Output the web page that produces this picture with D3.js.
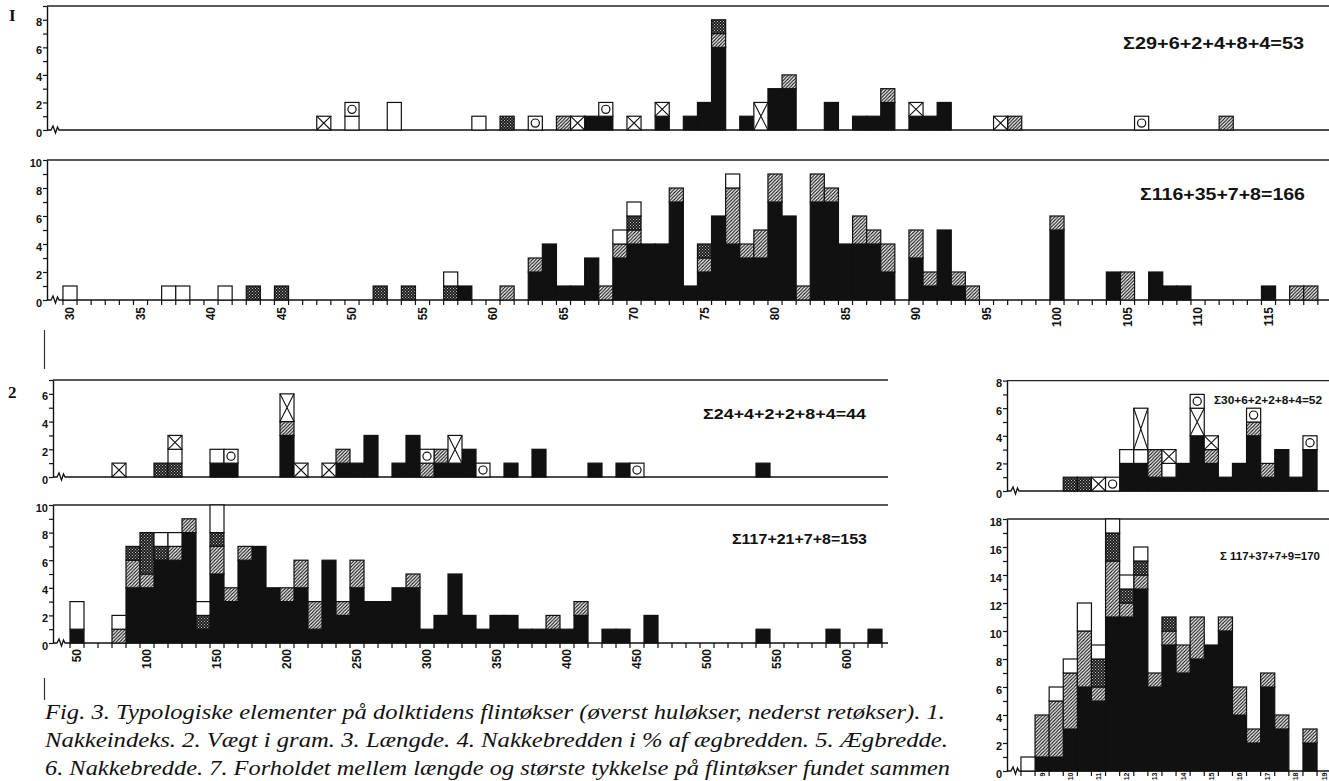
<!DOCTYPE html>
<html><head><meta charset="utf-8">
<script src="https://cdn.jsdelivr.net/npm/d3@7"></script>
<style>body{margin:0;background:#fff}svg{display:block}</style>
</head><body>
<svg id="c" width="1329" height="781"></svg>
<script>
// ================= DATA =================
// stack order of the symbol categories (bottom -> top)
const categories = ["black","hatched","stipple","white","cross","circle"];

// 1. Nakkeindeks – huløkser (top)  [index, count]
const nakHul_black   = [[67,1],[68,1],[72,1],[74,1],[75,2],[76,6],[78,1],[80,3],[81,3],[84,2],[86,1],[87,1],[88,2],[90,1],[91,1],[92,2]];
const nakHul_hatched = [[65,1],[76,1],[81,1],[88,1],[97,1],[112,1]];
const nakHul_stipple = [[61,1],[76,1]];
const nakHul_white   = [[50,1],[53,2],[59,1]];
const nakHul_cross   = [[48,1],[66,1],[70,1],[72,1],[79,2],[90,1],[96,1]];
const nakHul_circle  = [[50,1],[63,1],[68,1],[106,1]];

// 1. Nakkeindeks – retøkser
const nakRet_black   = [[58,1],[63,2],[64,4],[65,1],[66,1],[67,3],[69,3],[70,4],[71,4],[72,4],[73,7],[74,1],[75,2],[76,6],[77,4],[78,3],[79,3],[80,7],[81,6],[83,7],[84,7],[85,4],[86,4],[87,4],[88,2],[90,3],[91,1],[92,5],[93,1],[100,5],[104,2],[107,2],[108,1],[109,1],[115,1]];
const nakRet_hatched = [[61,1],[63,1],[68,1],[69,1],[70,1],[73,1],[75,1],[77,4],[78,1],[79,2],[80,2],[82,1],[83,2],[84,1],[86,2],[87,1],[88,2],[90,2],[91,1],[93,1],[94,1],[100,1],[105,2],[117,1],[118,1]];
const nakRet_stipple = [[43,1],[45,1],[52,1],[54,1],[57,1],[70,1],[75,1]];
const nakRet_white   = [[30,1],[37,1],[38,1],[41,1],[57,1],[69,1],[70,1],[77,1]];

// 2. Vægt i gram – huløkser  [gram class (centre), count]
const vaegtHul_black   = [[150,1],[160,1],[200,3],[240,1],[250,1],[260,3],[280,1],[290,3],[310,1],[320,1],[330,2],[360,1],[380,2],[420,1],[440,1],[540,1]];
const vaegtHul_hatched = [[200,1],[240,1],[300,1],[310,1]];
const vaegtHul_stipple = [[110,1],[120,1]];
const vaegtHul_white   = [[120,1],[150,1]];
const vaegtHul_cross   = [[80,1],[120,1],[200,2],[210,1],[230,1],[320,2]];
const vaegtHul_circle  = [[160,1],[300,1],[340,1],[450,1]];

// 2. Vægt i gram – retøkser
const vaegtRet_black   = [[50,1],[90,4],[100,4],[110,6],[120,6],[130,8],[140,1],[150,5],[160,3],[170,6],[180,7],[190,4],[200,3],[210,4],[220,1],[230,6],[240,2],[250,4],[260,3],[270,3],[280,4],[290,4],[300,1],[310,2],[320,5],[330,2],[340,1],[350,2],[360,2],[370,1],[380,1],[390,1],[400,1],[410,2],[430,1],[440,1],[460,2],[540,1],[590,1],[620,1]];
const vaegtRet_hatched = [[80,1],[90,2],[100,1],[120,1],[130,1],[150,2],[160,1],[170,1],[200,1],[210,2],[220,2],[240,1],[250,2],[290,1],[390,1],[410,1]];
const vaegtRet_stipple = [[90,1],[100,3],[110,1],[140,1],[150,1]];
const vaegtRet_white   = [[50,2],[80,1],[110,1],[120,1],[140,1],[150,2]];

// 3. Længde – huløkser  [cm class, count]
const laengHul_black   = [[12,2],[12.5,2],[13,1],[13.5,1],[14,2],[14.5,4],[15,2],[15.5,1],[16,2],[16.5,4],[17,1],[17.5,3],[18,1],[18.5,3]];
const laengHul_hatched = [[13,2],[15,1],[16.5,1],[17,1]];
const laengHul_stipple = [[10,1],[10.5,1]];
const laengHul_white   = [[12,1],[12.5,1],[13.5,1]];
const laengHul_cross   = [[11,1],[12.5,3],[13.5,1],[14.5,2],[15,1]];
const laengHul_circle  = [[11.5,1],[14.5,1],[16.5,1],[18.5,1]];

// 3. Længde – retøkser
const laengRet_black   = [[9,1],[9.5,1],[10,3],[10.5,6],[11,5],[11.5,11],[12,11],[12.5,13],[13,6],[13.5,9],[14,7],[14.5,8],[15,9],[15.5,10],[16,4],[16.5,2],[17,6],[17.5,3],[18.5,2]];
const laengRet_hatched = [[9,3],[9.5,4],[10,4],[10.5,4],[11,1],[11.5,4],[12,1],[12.5,1],[13,1],[13.5,1],[14,2],[14.5,3],[15.5,1],[16,2],[16.5,1],[17,1],[17.5,1],[18.5,1]];
const laengRet_stipple = [[11,2],[11.5,2],[12,1],[12.5,1],[13.5,1]];
const laengRet_white   = [[8.5,1],[9.5,1],[10,1],[10.5,2],[11,1],[11.5,1],[12,1],[12.5,1]];

// tick labels
const nakTicks   = [30,35,40,45,50,55,60,65,70,75,80,85,90,95,100,105,110,115];
const vaegtTicks = [50,100,150,200,250,300,350,400,450,500,550,600];
const laengTicks = [9,10,11,12,13,14,15,16,17,18,19];

// sum texts
const sums = {
  nakHul:"Σ29+6+2+4+8+4=53", nakRet:"Σ116+35+7+8=166",
  vaegtHul:"Σ24+4+2+2+8+4=44", vaegtRet:"Σ117+21+7+8=153",
  laengHul:"Σ30+6+2+2+8+4=52", laengRet:"Σ 117+37+7+9=170"
};

const captionLines = [
  "Fig. 3. Typologiske elementer på dolktidens flintøkser (øverst huløkser, nederst retøkser). 1.",
  "Nakkeindeks. 2. Vægt i gram. 3. Længde. 4. Nakkebredden i % af ægbredden. 5. Ægbredde.",
  "6. Nakkebredde. 7. Forholdet mellem længde og største tykkelse på flintøkser fundet sammen"
];

// ================= LAYOUT =================
const svg = d3.select("#c");
const defs = svg.append("defs");
const hp = defs.append("pattern").attr("id","hatch").attr("patternUnits","userSpaceOnUse").attr("width",3.4).attr("height",3.4);
hp.append("rect").attr("width",3.4).attr("height",3.4).attr("fill","#fff");
hp.append("path").attr("d","M-1,1 L1,-1 M0,3.4 L3.4,0 M2.4,4.4 L4.4,2.4").attr("stroke","#111").attr("stroke-width",1.1);
const sp = defs.append("pattern").attr("id","stip").attr("patternUnits","userSpaceOnUse").attr("width",3).attr("height",3);
sp.append("rect").attr("width",3).attr("height",3).attr("fill","#1c1c1c");
sp.append("rect").attr("x",0).attr("y",0).attr("width",1).attr("height",1).attr("fill","#bbb");
sp.append("rect").attr("x",1.5).attr("y",1.5).attr("width",1).attr("height",1).attr("fill","#bbb");

const fills = {black:"#111", hatched:"url(#hatch)", stipple:"url(#stip)", white:"#fff", cross:"#fff", circle:"#fff"};

function panel(cfg){
  const g = svg.append("g");
  const x = d3.scaleLinear().domain(cfg.xDom).range(cfg.xRng);
  const y = d3.scaleLinear().domain([0,cfg.yMax]).range([cfg.base,cfg.top]);
  // table for d3.stack
  const bins = Array.from(new Set(categories.flatMap(k => (cfg.series[k]||[]).map(d=>d[0])))).sort((a,b)=>a-b);
  const table = bins.map(b => {
    const row = {bin:b};
    categories.forEach(k => { const f=(cfg.series[k]||[]).find(d=>d[0]===b); row[k]=f?f[1]:0; });
    return row;
  });
  const layers = d3.stack().keys(categories)(table);
  const bw = Math.abs(x(cfg.step)-x(0));
  const segs = [];
  layers.forEach(L => L.forEach(d => { if(d[1]>d[0]) segs.push({key:L.key, bin:d.data.bin, y0:d[0], y1:d[1]}); }));

  // frame: top line, y axis, baseline with break
  g.append("line").attr("x1",cfg.left).attr("x2",cfg.right).attr("y1",cfg.top).attr("y2",cfg.top)
    .attr("stroke","#222").attr("stroke-width",1.3);
  const ax = d3.axisLeft(y).tickValues(d3.range(0,cfg.yMax+1)).tickFormat(d => d%2===0 ? d : "")
    .tickSize(4).tickSizeOuter(0).tickPadding(1);
  const ag = g.append("g").attr("transform",`translate(${cfg.left},0)`).call(ax);
  ag.select(".domain").attr("stroke","#111").attr("stroke-width",1.4);
  ag.selectAll(".tick line").attr("stroke","#111").attr("stroke-width",1.2);
  ag.selectAll(".tick text").attr("font-family","'Liberation Sans',Arial,sans-serif").attr("font-weight","bold")
    .attr("font-size",cfg.yFont||11).attr("dy","0.55em").attr("fill","#111");

  const L0 = cfg.left, yb = cfg.base;
  g.append("path").attr("d",`M${L0},${yb} h4 l2,-4 l2.5,7 l2,-6 l1.5,3 H${cfg.right}`)
    .attr("fill","none").attr("stroke","#111").attr("stroke-width",1.3);

  // x ticks & labels
  if(cfg.xTicks){
    const edges = d3.range(cfg.edgeStart, cfg.edgeEnd+cfg.step/2, cfg.step);
    g.selectAll(".xt").data(edges).join("line").attr("x1",d=>x(d)).attr("x2",d=>x(d))
      .attr("y1",yb).attr("y2",yb+5).attr("stroke","#111").attr("stroke-width",1.2);
    g.selectAll(".xl").data(cfg.xTicks).join("text")
      .attr("transform",d=>`translate(${x(d)},${yb+cfg.labOff}) rotate(-90)`)
      .attr("text-anchor","end").attr("dy","0.36em")
      .attr("font-family","'Liberation Sans',Arial,sans-serif").attr("font-weight","bold")
      .attr("font-size",cfg.xFont||12).attr("fill","#111").text(d=>d);
  }

  // bars
  const bg = g.append("g");
  segs.forEach(s => {
    const x0 = x(s.bin) - bw/2, x1 = x0 + bw, ya = y(s.y1), yz = y(s.y0);
    bg.append("rect").attr("x",x0).attr("y",ya).attr("width",bw).attr("height",yz-ya)
      .attr("fill",fills[s.key]).attr("stroke","#111").attr("stroke-width",1.2);
    if(s.key==="cross"){
      bg.append("path").attr("d",`M${x0},${ya}L${x1},${yz}M${x0},${yz}L${x1},${ya}`)
        .attr("stroke","#111").attr("stroke-width",1.1).attr("fill","none");
    }
    if(s.key==="circle"){
      for(let u=s.y0; u<s.y1; u++){
        bg.append("circle").attr("cx",x(s.bin)).attr("cy",y(u+0.5)).attr("r",bw*0.29)
          .attr("fill","none").attr("stroke","#111").attr("stroke-width",1.2);
      }
    }
  });

  // sum
  g.append("text").attr("x",cfg.sum[0]).attr("y",cfg.sum[1]).attr("textLength",cfg.sum[2]).attr("lengthAdjust","spacingAndGlyphs")
    .attr("font-family","'Liberation Sans',Arial,sans-serif").attr("font-weight","bold").attr("font-size",cfg.sum[3])
    .attr("fill","#111").text(cfg.sumText);
}

const xNak = {xDom:[30,115], xRng:[70,1268.5], step:1};
panel(Object.assign({}, xNak, {left:47,right:1329,top:6,base:130,yMax:9,
  series:{black:nakHul_black,hatched:nakHul_hatched,stipple:nakHul_stipple,white:nakHul_white,cross:nakHul_cross,circle:nakHul_circle},
  sum:[1123,49,181,17], sumText:sums.nakHul}));
panel(Object.assign({}, xNak, {left:47,right:1329,top:160,base:300,yMax:10,
  series:{black:nakRet_black,hatched:nakRet_hatched,stipple:nakRet_stipple,white:nakRet_white},
  xTicks:nakTicks, edgeStart:29.5, edgeEnd:118.5, labOff:7,
  sum:[1140,200,165,17], sumText:sums.nakRet}));

const xVg = {xDom:[50,600], xRng:[77,847], step:10};
panel(Object.assign({}, xVg, {left:53,right:888,top:380,base:477,yMax:7,
  series:{black:vaegtHul_black,hatched:vaegtHul_hatched,stipple:vaegtHul_stipple,white:vaegtHul_white,cross:vaegtHul_cross,circle:vaegtHul_circle},
  sum:[703,419,163,15], sumText:sums.vaegtHul}));
panel(Object.assign({}, xVg, {left:53,right:888,top:505,base:643,yMax:10,
  series:{black:vaegtRet_black,hatched:vaegtRet_hatched,stipple:vaegtRet_stipple,white:vaegtRet_white},
  xTicks:vaegtTicks, edgeStart:45, edgeEnd:625, labOff:6,
  sum:[732,544,135,15], sumText:sums.vaegtRet}));

const xLg = {xDom:[8.5,19], xRng:[1028,1324.1], step:0.5};
panel(Object.assign({}, xLg, {left:1007,right:1329,top:380.6,base:491,yMax:8,
  series:{black:laengHul_black,hatched:laengHul_hatched,stipple:laengHul_stipple,white:laengHul_white,cross:laengHul_cross,circle:laengHul_circle},
  sum:[1214,404,108,11], sumText:sums.laengHul}));
panel(Object.assign({}, xLg, {left:1007,right:1329,top:519,base:771,yMax:18,
  series:{black:laengRet_black,hatched:laengRet_hatched,stipple:laengRet_stipple,white:laengRet_white},
  xTicks:laengTicks, edgeStart:8.25, edgeEnd:18.75, labOff:1.5, xFont:7,
  sum:[1220,560,100,11], sumText:sums.laengRet}));

// panel numbers & marks
svg.append("text").attr("x",9).attr("y",21).attr("font-family","'Liberation Serif',serif").attr("font-weight","bold")
  .attr("font-size",17).attr("fill","#111").text("I");
svg.append("text").attr("x",8).attr("y",398).attr("font-family","'Liberation Serif',serif").attr("font-weight","bold")
  .attr("font-size",17).attr("fill","#111").text("2");
svg.append("line").attr("x1",44.5).attr("x2",44.5).attr("y1",330).attr("y2",369).attr("stroke","#333").attr("stroke-width",1.2);
svg.append("line").attr("x1",44.5).attr("x2",44.5).attr("y1",678).attr("y2",700).attr("stroke","#333").attr("stroke-width",1.2);

// caption
const cap = svg.append("g").attr("font-family","'Liberation Serif','DejaVu Serif',serif").attr("font-style","italic")
  .attr("font-size",22).attr("fill","#111");
cap.selectAll("text").data(captionLines).join("text")
  .attr("x",45).attr("y",(d,i)=>719+i*28).attr("textLength",(d,i)=>[900,903,905][i]).attr("lengthAdjust","spacingAndGlyphs")
  .text(d=>d);
</script>
</body></html>
